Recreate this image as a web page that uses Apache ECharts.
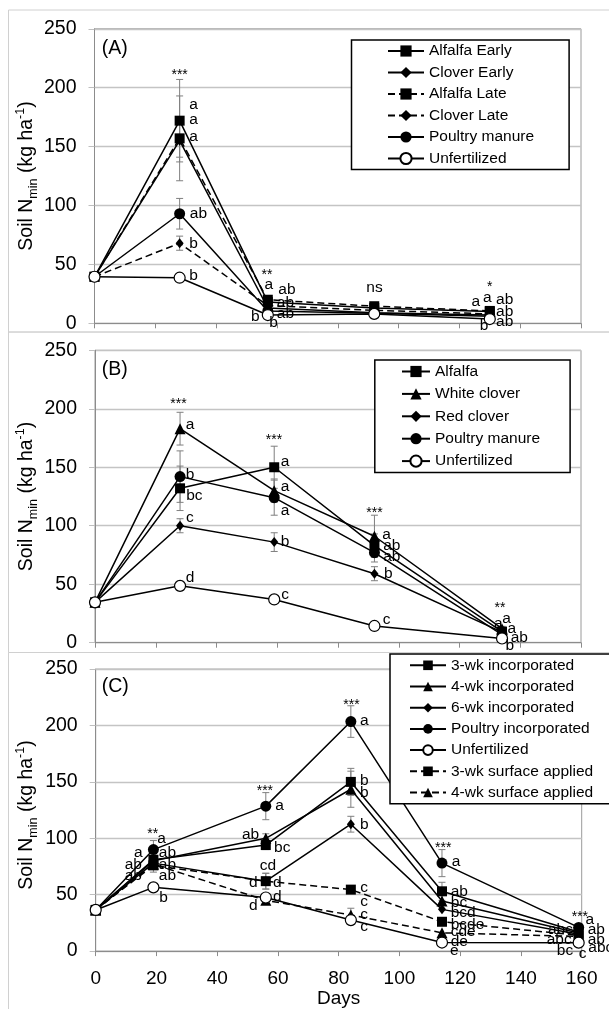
<!DOCTYPE html>
<html><head><meta charset="utf-8">
<script src="https://cdn.jsdelivr.net/npm/echarts@6/dist/echarts.min.js"></script>
<style>html,body{margin:0;padding:0;background:#fff}#c{width:609px;height:1009px}</style>
</head><body><div id="c"></div>
<script>
// ---------- DATA ----------
// Panel A
const daysA = [0, 28, 57, 92, 130];
const alfalfaEarly   = [39.5, 172, 18, 13, 10];
const cloverEarly    = [39.5, 155, 13, 9, 7];
const alfalfaLate    = [39.5, 157, 20, 14.5, 10.5];
const cloverLate     = [39.5, 68, 15, 11, 8];
const poultryA       = [39.5, 93, 10.5, 8.5, 6];
const unfertA        = [39.5, 38.7, 7, 8, 3.6];
const errAlfalfaEarly = [0, 35, 0, 0, 0];
const errCloverEarly  = [0, 14, 0, 0, 0];
const errAlfalfaLate  = [0, 36, 0, 0, 0];
const errCloverLate   = [0, 6, 0, 0, 0];
const errPoultryA     = [0, 13, 0, 0, 0];
const errUnfertA      = [0, 0, 0, 0, 0];
// Panel B
const daysB = [0, 28, 59, 92, 134];
const alfalfaB    = [34.5, 132, 150, 83, 9.5];
const whiteClover = [34.5, 183, 130, 91, 12];
const redClover   = [34.5, 100, 86, 59, 9];
const poultryB    = [34.5, 142, 124, 77, 7];
const unfertB     = [34.5, 48.6, 37, 14.3, 3.6];
const errAlfalfaB    = [0, 19, 18, 10, 2];
const errWhiteClover = [0, 14, 10, 18, 2];
const errRedClover   = [0, 6, 8, 6, 0];
const errPoultryB    = [0, 22, 15, 8, 0];
const errUnfertB     = [0, 4, 0, 0, 0];
// Panel C
const daysC = [0, 19, 56, 84, 114, 159];
const inc3wk     = [36.5, 81, 94, 150, 53, 17];
const inc4wk     = [36.5, 80, 100, 143.5, 44.5, 16];
const inc6wk     = [36.5, 78, 62, 112.5, 37, 15];
const poultryInc = [36.5, 90, 128.5, 203.5, 78, 21];
const unfertC    = [36.5, 56.5, 47.5, 27.5, 7.6, 7.5];
const surf3wk    = [36.5, 76, 62, 54.5, 26, 14];
const surf4wk    = [36.5, 77, 45, 32, 16.2, 13];
const errInc3wk     = [0, 6, 4, 12, 8, 0];
const errInc4wk     = [0, 5, 4, 16, 0, 0];
const errInc6wk     = [0, 5, 7, 7, 0, 0];
const errPoultryInc = [0, 8, 12, 14, 12, 0];
const errUnfertC    = [0, 0, 0, 0, 0, 0];
const errSurf3wk    = [0, 6, 7, 0, 0, 0];
const errSurf4wk    = [0, 0, 0, 6, 0, 0];
// Significance / letter annotations: [day, value, text]
const lettersA = [
 [28,214,'***'],[32.6,185.3,'a'],[32.6,173.2,'a'],[32.6,158.4,'a'],[34.2,92.8,'ab'],[32.6,67.9,'b'],[32.6,40.2,'b'],
 [56.7,44.7,'**'],[57.3,33.1,'a'],[63.3,28.3,'ab'],[62.8,17.5,'ab'],[62.8,8.5,'ab'],[52.9,5.6,'b'],[58.9,0.5,'b'],
 [92.1,30.6,'ns'],
 [130,34,'*'],[129.2,22,'a'],[125.4,18.3,'a'],[134.9,19.8,'ab'],[134.9,9.8,'ab'],[134.9,1.4,'ab'],[128.1,-2.3,'b']
];
const lettersB = [
 [27.5,207,'***'],[31.3,186.7,'a'],[31.3,143.8,'b'],[32.7,125.8,'bc'],[31.2,106.7,'c'],[31.3,55.2,'d'],
 [58.9,176.2,'***'],[62.6,154.4,'a'],[62.6,133.3,'a'],[62.6,113,'a'],[62.6,86.6,'b'],[62.6,40.9,'c'],
 [92,113.8,'***'],[96,92.4,'a'],[97.7,83.2,'ab'],[97.7,73.8,'ab'],[96.6,58.7,'b'],[96,20,'c'],
 [133.3,32.9,'**'],[132.8,16.6,'a'],[135.5,20.9,'a'],[137.2,12.3,'a'],[139.7,4.6,'ab'],[136.6,-2.6,'b']
];
const lettersC = [
 [18.8,106.9,'**'],[21.7,100,'a'],[14,86.9,'a'],[23.6,86.9,'ab'],[12.4,76.2,'ab'],[23.6,76.2,'ab'],[12.4,66.8,'ab'],[23.6,66.8,'ab'],[22.3,47.7,'b'],
 [55.7,145.5,'***'],[60.5,128.5,'a'],[51,103.1,'ab'],[61.4,91.8,'bc'],[56.7,75.4,'cd'],[51.9,60.5,'d'],[59.8,60.5,'d'],[59.8,48.5,'d'],[51.9,40.5,'d'],
 [84.2,221.2,'***'],[88.4,204.2,'a'],[88.4,151.1,'b'],[88.4,140.7,'b'],[88.4,112.4,'b'],[88.4,56,'c'],[88.4,44,'c'],[88.4,32,'c'],[88.4,22,'c'],
 [114.4,94.9,'***'],[118.6,79.2,'a'],[119.7,52.6,'ab'],[119.6,42.5,'bc'],[121,34.2,'bcd'],[122.4,23.4,'bcde'],[121,16.8,'cde'],[119.7,8.5,'de'],[118.1,0,'e'],
 [159.4,33.4,'***'],[162.7,27.7,'a'],[164.8,19.1,'ab'],[164.8,10.5,'ab'],[153,19.1,'abc'],[152.6,9.7,'abc'],[154.5,0.5,'bc'],[160.3,-2.3,'c'],[166.3,3.3,'abc']
];
const yTicks = [0, 50, 100, 150, 200, 250];
const xTicks = [0, 20, 40, 60, 80, 100, 120, 140, 160];

// ---------- CHART ----------
const FONT = '"Liberation Sans", Arial, sans-serif';
const chart = echarts.init(document.getElementById('c'), null, {renderer: 'canvas'});

function lineSeries(name, days, vals, sym, dashed, gi) {
  const open = sym === 'open';
  const shape = open ? 'circle' : sym;
  const size = shape === 'diamond' ? [8, 10] : (shape === 'rect' ? 10 : 11);
  return {
    type: 'line', name, xAxisIndex: gi, yAxisIndex: gi,
    data: days.map((d, i) => [d, vals[i]]),
    symbol: shape, symbolSize: size, showSymbol: true, z: open ? 4 : 3,
    lineStyle: {color: '#000', width: 1.5, type: dashed ? [7, 4] : 'solid'},
    itemStyle: {color: open ? '#fff' : '#000', borderColor: '#000', borderWidth: open ? 1.2 : 0},
    emphasis: {disabled: true}, animation: false, silent: true
  };
}
function errSeries(days, list, gi) {
  const rows = [];
  list.forEach(([vals, errs]) => {
    days.forEach((d, i) => { if (errs[i] > 0) rows.push([d, vals[i] - errs[i], vals[i] + errs[i]]); });
  });
  return {
    type: 'custom', xAxisIndex: gi, yAxisIndex: gi, z: 2, silent: true, animation: false,
    data: rows,
    renderItem: (params, api) => {
      const lo = api.coord([api.value(0), api.value(1)]);
      const hi = api.coord([api.value(0), api.value(2)]);
      const w = 3.5, st = {stroke: '#7f7f7f', lineWidth: 1};
      return {type: 'group', children: [
        {type: 'line', shape: {x1: lo[0], y1: lo[1], x2: hi[0], y2: hi[1]}, style: st},
        {type: 'line', shape: {x1: lo[0] - w, y1: lo[1], x2: lo[0] + w, y2: lo[1]}, style: st},
        {type: 'line', shape: {x1: hi[0] - w, y1: hi[1], x2: hi[0] + w, y2: hi[1]}, style: st}
      ]};
    }
  };
}
function textSeries(items, gi) {
  return {
    type: 'custom', xAxisIndex: gi, yAxisIndex: gi, z: 6, silent: true, animation: false, clip: false,
    data: items.map(d => [d[0], d[1]]),
    renderItem: (params, api) => {
      const d = items[params.dataIndex];
      const p = api.coord([d[0], d[1]]);
      const stars = /^\*+$/.test(d[2]);
      return {type: 'text', x: p[0], y: p[1] + (stars ? 4 : 0),
        style: {text: d[2], fill: '#000', font: (stars ? '14px ' : '15.5px ') + FONT,
                align: 'center', verticalAlign: 'middle'}};
    }
  };
}
function xAx(gi, labels) {
  return {type: 'value', gridIndex: gi, min: xTicks[0], max: xTicks[xTicks.length - 1], interval: 20,
    axisLine: {show: true, onZero: false, lineStyle: {color: '#8c8c8c', width: 1}},
    axisTick: {show: true, length: 5, lineStyle: {color: '#8c8c8c'}},
    axisLabel: {show: labels, fontSize: 19, color: '#000', margin: 18, fontFamily: FONT},
    splitLine: {show: false},
    name: labels ? 'Days' : '', nameLocation: 'middle', nameGap: 35,
    nameTextStyle: {fontSize: 19, color: '#000', fontFamily: FONT}};
}
function yAx(gi) {
  return {type: 'value', gridIndex: gi, min: yTicks[0], max: yTicks[yTicks.length - 1], interval: 50,
    axisLine: {show: true, lineStyle: {color: '#8c8c8c', width: 1}},
    axisTick: {show: true, length: 6, lineStyle: {color: '#bfbfbf'}},
    axisLabel: {fontSize: 19.5, color: '#000', margin: 18, fontFamily: FONT},
    splitLine: {show: true, lineStyle: {color: '#c4c4c4', width: 1.3}}};
}
function legend(names, left, top, iw, ih, gap, pad) {
  return {data: names, orient: 'vertical', left, top, itemWidth: iw, itemHeight: ih, itemGap: gap,
    padding: pad, borderColor: '#000', borderWidth: 1.5, backgroundColor: '#fff', borderRadius: 0,
    selectedMode: false, align: 'left',
    textStyle: {fontSize: 15.5, color: '#000', fontFamily: FONT, lineHeight: ih}};
}
function yTitle(y) {
  return {type: 'text', x: 27, y, rotation: Math.PI / 2, z: 10,
    style: {text: '{n|Soil N}{s|min}{n| (kg ha}{p|-1}{n|)}', align: 'center', verticalAlign: 'middle', fill: '#000',
      rich: {n: {fontSize: 19.5, fontFamily: FONT, lineHeight: 26, verticalAlign: 'middle'},
             s: {fontSize: 12.5, fontFamily: FONT, lineHeight: 12, verticalAlign: 'bottom'},
             p: {fontSize: 12.5, fontFamily: FONT, lineHeight: 16, verticalAlign: 'top'}}}};
}
function panelLabel(t, y) {
  return {type: 'text', x: 101.7, y, z: 10,
    style: {text: t, font: '19.5px ' + FONT, fill: '#000', align: 'left', verticalAlign: 'middle'}};
}
const frame = (y, h) => ({type: 'rect', z: -1, shape: {x: 8.5, y, width: 640, height: h},
  style: {fill: 'none', stroke: '#d0d0d0', lineWidth: 1}});

const option = {
  animation: false,
  textStyle: {fontFamily: FONT},
  grid: [
    {left: 94.5, top: 28.8, width: 486.5, height: 294.5, show: true, borderColor: '#9a9a9a', borderWidth: 1},
    {left: 95, top: 350.3, width: 486, height: 292.4, show: true, borderColor: '#9a9a9a', borderWidth: 1},
    {left: 95.7, top: 669.1, width: 486, height: 291.5, show: true, borderColor: '#9a9a9a', borderWidth: 1}
  ],
  xAxis: [xAx(0, false), xAx(1, false), xAx(2, true)],
  yAxis: [yAx(0), yAx(1), yAx(2)],
  legend: [
    legend(['Alfalfa Early', 'Clover Early', 'Alfalfa Late', 'Clover Late', 'Poultry manure', 'Unfertilized'],
           351.5, 40, 36, 14, 5.5, [3, 35, 3, 35.5]),
    legend(['Alfalfa', 'White clover', 'Red clover', 'Poultry manure', 'Unfertilized'],
           374.8, 360, 28, 14, 6.4, [3.5, 30, 3.5, 26.2]),
    legend(['3-wk incorporated', '4-wk incorporated', '6-wk incorporated', 'Poultry incorporated', 'Unfertilized',
            '3-wk surface applied', '4-wk surface applied'],
           390, 654, 36, 12, 5.2, [3.3, 40, 3.3, 19])
  ],
  graphic: [
    frame(10, 322), frame(332, 320.5), frame(652.5, 400),
    yTitle(176), yTitle(496.5), yTitle(815),
    panelLabel('(A)', 48.5), panelLabel('(B)', 370), panelLabel('(C)', 687)
  ],
  series: [
    errSeries(daysA, [[alfalfaEarly, errAlfalfaEarly], [cloverEarly, errCloverEarly], [alfalfaLate, errAlfalfaLate],
                      [cloverLate, errCloverLate], [poultryA, errPoultryA], [unfertA, errUnfertA]], 0),
    errSeries(daysB, [[alfalfaB, errAlfalfaB], [whiteClover, errWhiteClover], [redClover, errRedClover],
                      [poultryB, errPoultryB], [unfertB, errUnfertB]], 1),
    errSeries(daysC, [[inc3wk, errInc3wk], [inc4wk, errInc4wk], [inc6wk, errInc6wk], [poultryInc, errPoultryInc],
                      [unfertC, errUnfertC], [surf3wk, errSurf3wk], [surf4wk, errSurf4wk]], 2),
    lineSeries('Alfalfa Early', daysA, alfalfaEarly, 'rect', false, 0),
    lineSeries('Clover Early', daysA, cloverEarly, 'diamond', false, 0),
    lineSeries('Alfalfa Late', daysA, alfalfaLate, 'rect', true, 0),
    lineSeries('Clover Late', daysA, cloverLate, 'diamond', true, 0),
    lineSeries('Poultry manure', daysA, poultryA, 'circle', false, 0),
    lineSeries('Unfertilized', daysA, unfertA, 'open', false, 0),
    lineSeries('Alfalfa', daysB, alfalfaB, 'rect', false, 1),
    lineSeries('White clover', daysB, whiteClover, 'triangle', false, 1),
    lineSeries('Red clover', daysB, redClover, 'diamond', false, 1),
    lineSeries('Poultry manure', daysB, poultryB, 'circle', false, 1),
    lineSeries('Unfertilized', daysB, unfertB, 'open', false, 1),
    lineSeries('3-wk incorporated', daysC, inc3wk, 'rect', false, 2),
    lineSeries('4-wk incorporated', daysC, inc4wk, 'triangle', false, 2),
    lineSeries('6-wk incorporated', daysC, inc6wk, 'diamond', false, 2),
    lineSeries('Poultry incorporated', daysC, poultryInc, 'circle', false, 2),
    lineSeries('Unfertilized', daysC, unfertC, 'open', false, 2),
    lineSeries('3-wk surface applied', daysC, surf3wk, 'rect', true, 2),
    lineSeries('4-wk surface applied', daysC, surf4wk, 'triangle', true, 2),
    textSeries(lettersA, 0), textSeries(lettersB, 1), textSeries(lettersC, 2)
  ]
};
chart.setOption(option);
</script>
</body></html>
